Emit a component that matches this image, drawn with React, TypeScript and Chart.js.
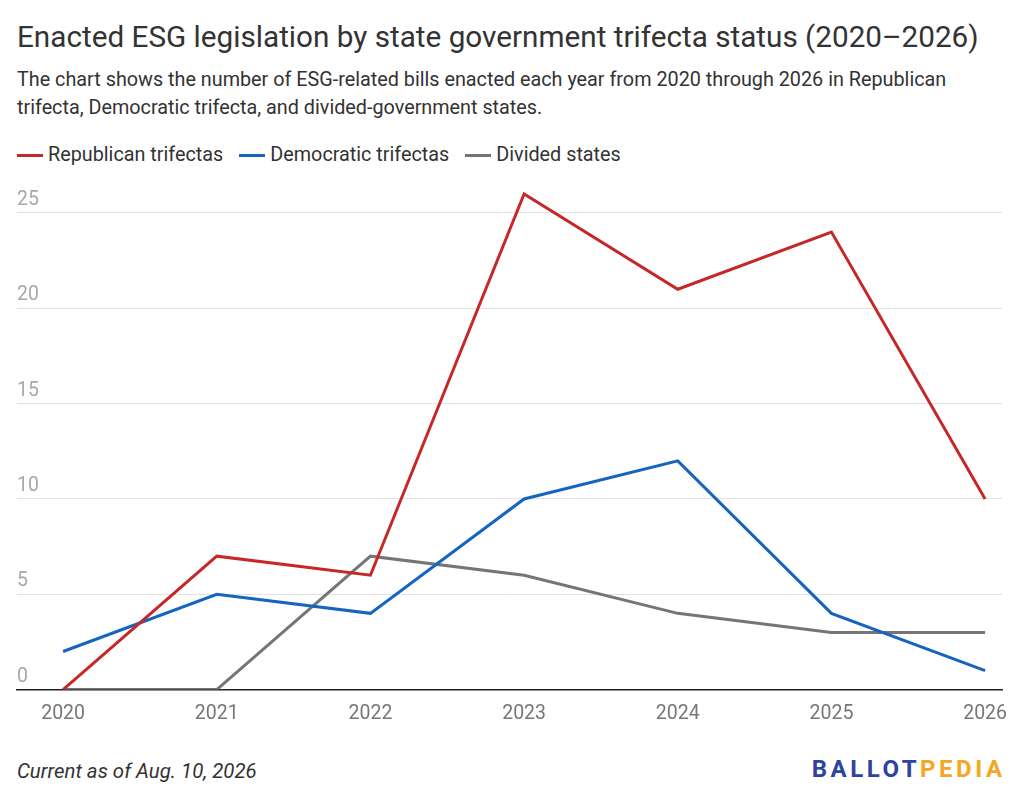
import { useEffect, useRef } from "react"
import { Chart, registerables } from "chart.js"

Chart.register(...registerables)

// data
const years = [2020, 2021, 2022, 2023, 2024, 2025, 2026]
const republican = [0, 7, 6, 26, 21, 24, 10]
const democratic = [2, 5, 4, 10, 12, 4, 1]
const divided = [0, 0, 7, 6, 4, 3, 3]
const yTicks = [0, 5, 10, 15, 20, 25]

const seriesNames = ["Republican trifectas", "Democratic trifectas", "Divided states"]
const seriesColors = ["#c62828", "#1565c0", "#757575"]

const FONT = "Roboto, 'Noto Sans', sans-serif"

// y 라벨을 그리드선 위쪽, 왼쪽 정렬로 그린다
const yLabelPlugin = {
  id: "yLabelsAbove",
  afterDraw(chart: Chart) {
    const { ctx, chartArea, scales } = chart
    const y = scales.y
    ctx.save()
    ctx.font = `19.5px ${FONT}`
    ctx.fillStyle = "#a8a8a8"
    ctx.textAlign = "left"
    ctx.textBaseline = "alphabetic"
    y.ticks.forEach((t) => {
      const py = y.getPixelForValue(t.value)
      ctx.fillText(String(t.value), chartArea.left, py - 8)
    })
    ctx.restore()
  },
}

function LineChart() {
  const chartRef = useRef<HTMLCanvasElement>(null)
  const chartInstance = useRef<Chart | null>(null)

  useEffect(() => {
    if (!chartRef.current) return
    if (chartInstance.current) chartInstance.current.destroy()

    const toPoints = (vals: number[]) => years.map((yr, i) => ({ x: yr, y: vals[i] }))
    const allValues = [republican, democratic, divided]

    const ctx = chartRef.current.getContext("2d")
    if (!ctx) return
    chartInstance.current = new Chart(ctx, {
      type: "line",
      data: {
        datasets: allValues.map((vals, i) => ({
          label: seriesNames[i],
          data: toPoints(vals),
          borderColor: seriesColors[i],
          backgroundColor: seriesColors[i],
          borderWidth: 3,
          pointRadius: 0,
          tension: 0,
        })),
      },
      options: {
        animation: false,
        responsive: false,
        maintainAspectRatio: false,
        layout: { padding: { left: 17, right: 22, top: 14.4, bottom: 12 } },
        plugins: {
          legend: { display: false },
          tooltip: { enabled: false },
        },
        scales: {
          x: {
            type: "linear",
            min: 2019.7,
            max: 2026.11,
            afterBuildTicks: (scale) => {
              scale.ticks = years.map((v) => ({ value: v }))
            },
            grid: { display: false },
            border: { display: true, color: "#222", width: 1.5 },
            ticks: {
              autoSkip: false,
              maxRotation: 0,
              padding: 5,
              color: "#777",
              font: { family: FONT, size: 19.5 },
              callback: (v) => String(v),
            },
          },
          y: {
            min: 0,
            max: 26.5,
            afterBuildTicks: (scale) => {
              scale.ticks = yTicks.map((v) => ({ value: v }))
            },
            grid: { color: "#e3e3e3", lineWidth: 1, drawTicks: false },
            border: { display: false },
            ticks: { display: false },
          },
        },
      },
      plugins: [yLabelPlugin],
    })

    return () => {
      if (chartInstance.current) {
        chartInstance.current.destroy()
        chartInstance.current = null
      }
    }
  }, [])

  return (
    <canvas
      ref={chartRef}
      width={1024}
      height={573}
      style={{ position: "absolute", left: 0, top: 170, width: 1024, height: 573 }}
    />
  )
}

export default function App() {
  return (
    <div
      style={{
        position: "absolute",
        left: 0,
        top: 0,
        width: 1024,
        height: 801,
        background: "#fff",
        fontFamily: FONT,
        color: "#333",
        overflow: "hidden",
      }}
    >
      <div
        style={{
          position: "absolute",
          left: 17,
          top: 19,
          fontSize: 29.7,
          lineHeight: "36px",
          color: "#333",
          whiteSpace: "nowrap",
        }}
      >
        Enacted ESG legislation by state government trifecta status (2020–2026)
      </div>
      <div
        style={{
          position: "absolute",
          left: 17,
          top: 66,
          width: 990,
          fontSize: 19.8,
          lineHeight: "28.4px",
          color: "#333",
        }}
      >
        The chart shows the number of ESG-related bills enacted each year from 2020 through 2026 in Republican
        trifecta, Democratic trifecta, and divided-government states.
      </div>
      <div
        style={{
          position: "absolute",
          left: 17,
          top: 141,
          display: "flex",
          alignItems: "center",
          fontSize: 19.8,
          lineHeight: "28px",
          color: "#333",
        }}
      >
        {seriesNames.map((name, i) => (
          <div key={name} style={{ display: "flex", alignItems: "center", marginRight: 16 }}>
            <span
              style={{
                display: "inline-block",
                width: 26,
                height: 3,
                background: seriesColors[i],
                marginRight: 5,
              }}
            />
            <span>{name}</span>
          </div>
        ))}
      </div>
      <LineChart />
      <div
        style={{
          position: "absolute",
          left: 17,
          top: 757,
          fontSize: 20.4,
          lineHeight: "28px",
          fontStyle: "italic",
          color: "#333",
        }}
      >
        Current as of Aug. 10, 2026
      </div>
      <div
        style={{
          position: "absolute",
          right: 18.5,
          top: 754,
          fontSize: 24,
          lineHeight: "30px",
          fontWeight: 700,
          letterSpacing: 3.5,
          whiteSpace: "nowrap",
        }}
      >
        <span style={{ color: "#2c43a3" }}>BALLOT</span>
        <span style={{ color: "#f5a623" }}>PEDIA</span>
      </div>
    </div>
  )
}
